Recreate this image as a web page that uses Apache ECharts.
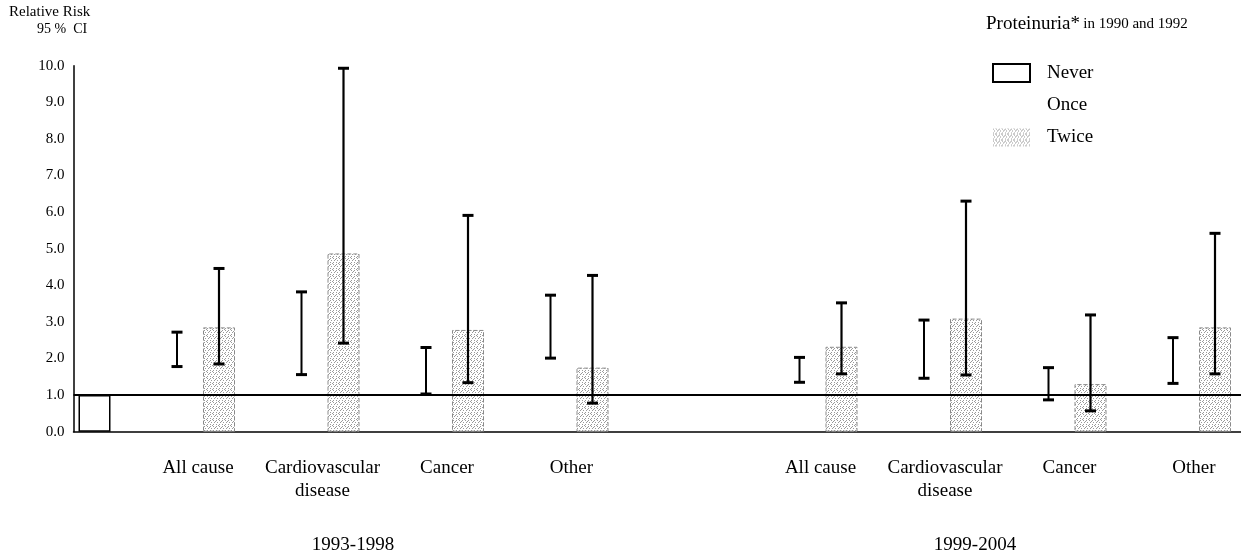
<!DOCTYPE html>
<html>
<head>
<meta charset="utf-8">
<script src="https://cdn.jsdelivr.net/npm/echarts@6/dist/echarts.min.js"></script>
<style>
html,body{margin:0;padding:0;background:#fff;}
#chart{width:1241px;height:558px;}
</style>
</head>
<body>
<div id="chart"></div>
<script>
// ---- data ----
const categories = ['', 'All cause', 'Cardiovascular\ndisease', 'Cancer', 'Other', '',
                    'All cause', 'Cardiovascular\ndisease', 'Cancer', 'Other', ''];
const periods = ['1993-1998', '1999-2004'];
const seriesNames = ['Never', 'Once', 'Twice'];
const neverRR   = [1.0, null, null, null, null, null, null, null, null, null, null];
const twiceRR   = [null, 2.85, 4.87, 2.78, 1.75, null, 2.32, 3.09, 1.30, 2.85, null];
const onceLow   = [null, 1.78, 1.56, 1.03, 2.01, null, 1.35, 1.46, 0.87, 1.32, null];
const onceHigh  = [null, 2.72, 3.82, 2.30, 3.73, null, 2.03, 3.05, 1.75, 2.57, null];
const twiceLow  = [null, 1.85, 2.42, 1.34, 0.78, null, 1.58, 1.55, 0.57, 1.58, null];
const twiceHigh = [null, 4.46, 9.93, 5.91, 4.27, null, 3.52, 6.30, 3.19, 5.42, null];
const yMin = 0, yMax = 10, yStep = 1;
const refRR = 1.0;

// ---- styles ----
const FONT = '"Liberation Serif", "DejaVu Serif", serif';
function stipple() {
  const c = document.createElement('canvas');
  c.width = 6; c.height = 6;
  const g = c.getContext('2d');
  g.fillStyle = '#ffffff'; g.fillRect(0, 0, 6, 6);
  g.fillStyle = '#9a9a9a';
  [[0,0],[3,0],[1,2],[4,2],[0,4],[3,4],[5,1],[2,5]].forEach(p => g.fillRect(p[0], p[1], 1, 1));
  return c;
}
const pattern = { image: stipple(), repeat: 'repeat' };

function ciData(lo, hi) {
  const out = [];
  lo.forEach((v, i) => { if (v != null && hi[i] != null) out.push([i, v, hi[i]]); });
  return out;
}
function ciRenderer(offset, lw) {
  return function (params, api) {
    const i = api.value(0);
    const pLo = api.coord([i, api.value(1)]);
    const pHi = api.coord([i, api.value(2)]);
    const x = pLo[0] + offset;
    const capW = 11, capH = 3;
    return {
      type: 'group',
      children: [
        { type: 'line', shape: { x1: x, y1: pLo[1], x2: x, y2: pHi[1] },
          style: { stroke: '#000', lineWidth: lw } },
        { type: 'rect', shape: { x: x - capW / 2, y: pHi[1] - capH / 2, width: capW, height: capH },
          style: { fill: '#000' } },
        { type: 'rect', shape: { x: x - capW / 2, y: pLo[1] - capH / 2, width: capW, height: capH },
          style: { fill: '#000' } }
      ]
    };
  };
}

const chart = echarts.init(document.getElementById('chart'), null, { renderer: 'canvas' });
chart.setOption({
  animation: false,
  backgroundColor: '#fff',
  textStyle: { fontFamily: FONT, color: '#000' },
  grid: { left: 73.5, top: 65.7, height: 366, width: 1245, containLabel: false, outerBoundsMode: 'none' },
  legend: {
    data: [
      { name: 'Never', icon: 'rect' },
      { name: 'Once', icon: 'rect' },
      { name: 'Twice', icon: 'rect', itemStyle: { borderWidth: 0 } }
    ],
    orient: 'vertical',
    left: 992, top: 63,
    itemWidth: 37, itemHeight: 18, itemGap: 13,
    padding: 0,
    selectedMode: false,
    textStyle: { fontFamily: FONT, fontSize: 19, color: '#000', padding: [0, 0, 0, 12] }
  },
  graphic: [
    { type: 'text', left: 9, top: 5, style: { text: 'Relative Risk', font: '15px ' + FONT, fill: '#000' } },
    { type: 'text', left: 37, top: 22, style: { text: '95 %  CI', font: '14px ' + FONT, fill: '#000' } },
    { type: 'text', left: 986, top: 15, style: {
        text: '{a|Proteinuria*} {b|in 1990 and 1992}',
        rich: { a: { fontFamily: FONT, fontSize: 19, fill: '#000' },
                b: { fontFamily: FONT, fontSize: 15, fill: '#000' } } } },
    { type: 'text', x: 353, y: 545, style: { text: periods[0], font: '19px ' + FONT, fill: '#000', align: 'center', verticalAlign: 'middle' } },
    { type: 'text', x: 975, y: 545, style: { text: periods[1], font: '19px ' + FONT, fill: '#000', align: 'center', verticalAlign: 'middle' } }
  ],
  xAxis: {
    type: 'category',
    data: categories,
    boundaryGap: false,
    axisLine: { lineStyle: { color: '#000', width: 1.5 } },
    axisTick: { show: false },
    splitLine: { show: false },
    axisLabel: { interval: 0, margin: 25, fontFamily: FONT, fontSize: 19, lineHeight: 23, color: '#000' }
  },
  yAxis: {
    type: 'value',
    min: yMin, max: yMax, interval: yStep,
    axisLine: { show: true, lineStyle: { color: '#000', width: 1.5 } },
    axisTick: { show: false },
    splitLine: { show: false },
    axisLabel: { margin: 9, fontFamily: FONT, fontSize: 15, color: '#000',
                 formatter: v => v.toFixed(1) }
  },
  series: [
    { name: 'Once', type: 'bar', data: neverRR.map(() => null),
      barWidth: 32, barGap: '31.25%', clip: false,
      itemStyle: { color: 'rgba(255,255,255,0)', borderWidth: 0 } },
    { name: 'Never', type: 'bar', stack: 's', data: neverRR, barWidth: 32, z: 3, clip: false,
      itemStyle: { color: '#fff', borderColor: '#000', borderWidth: 1.5 },
      markLine: { silent: true, symbol: 'none', label: { show: false },
        lineStyle: { color: '#000', width: 2, type: 'solid' },
        data: [{ yAxis: refRR }] } },
    { name: 'Twice', type: 'bar', stack: 's', data: twiceRR, barWidth: 32, clip: false,
      itemStyle: { color: pattern, borderColor: '#8a8a8a', borderWidth: 1, borderType: 'dashed' } },
    { name: 'Once', type: 'custom', data: ciData(onceLow, onceHigh), z: 4,
      renderItem: ciRenderer(-21, 2) },
    { name: 'Twice', type: 'custom', data: ciData(twiceLow, twiceHigh), z: 4,
      renderItem: ciRenderer(21, 2.2) }
  ]
});
</script>
</body>
</html>
